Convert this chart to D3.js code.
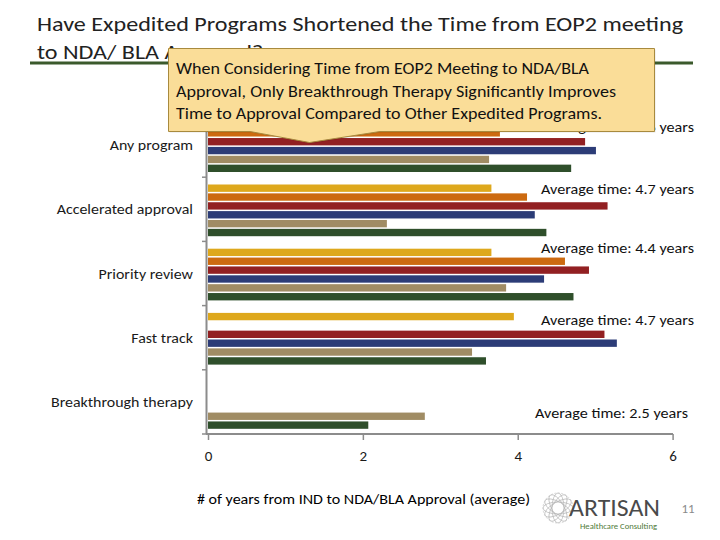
<!DOCTYPE html>
<html><head><meta charset="utf-8">
<script src="https://cdn.jsdelivr.net/npm/d3@7"></script>
<style>html,body{margin:0;padding:0;background:#fff;}svg{display:block;}</style>
</head><body>
<script>
// ---- data ----
const categories = ["Any program", "Accelerated approval", "Priority review", "Fast track", "Breakthrough therapy"];
const seriesNames = ["Series 1", "Series 2", "Series 3", "Series 4", "Series 5", "Series 6"];
const series1 = [3.65, 3.66, 3.66, 3.95, null];
const series2 = [3.77, 4.12, 4.61, null, null];
const series3 = [4.87, 5.16, 4.92, 5.12, null];
const series4 = [5.01, 4.22, 4.34, 5.28, null];
const series5 = [3.63, 2.31, 3.85, 3.41, 2.80];
const series6 = [4.69, 4.37, 4.72, 3.59, 2.07];
const averageTimes = ["4.6", "4.7", "4.4", "4.7", "2.5"];
const xTicks = [0, 2, 4, 6];
const titleLines = ["Have Expedited Programs Shortened the Time from EOP2 meeting", "to NDA/ BLA Approval?"];
const calloutLines = ["When Considering Time from EOP2 Meeting to NDA/BLA",
  "Approval, Only Breakthrough Therapy Significantly Improves",
  "Time to Approval Compared to Other Expedited Programs."];
const xAxisTitle = "# of years from IND to NDA/BLA Approval (average)";

const seriesValues = [series1, series2, series3, series4, series5, series6];
const colors = ["#dea81c", "#cc6a10", "#922022", "#2c3c77", "#a08c64", "#2f4f2b"];
const FONT = "Carlito, Lato, 'Open Sans', sans-serif";

const W = 720, H = 540;
const svg = d3.select("body").append("svg").attr("width", W).attr("height", H);

function fit(sel, width) {
  const n = sel.node().getComputedTextLength();
  sel.attr("textLength", width).attr("lengthAdjust", "spacingAndGlyphs");
  return width / n;
}

// ---- title ----
const t1 = svg.append("text").attr("x", 37).attr("y", 31).attr("font-family", FONT)
  .attr("font-size", 20).attr("fill", "#222").text(titleLines[0]);
const k = fit(t1, 646);
const t2 = svg.append("text").attr("x", 37).attr("y", 59).attr("font-family", FONT)
  .attr("font-size", 20).attr("fill", "#222").text(titleLines[1]);
t2.attr("textLength", t2.node().getComputedTextLength() * k).attr("lengthAdjust", "spacingAndGlyphs");
svg.append("line").attr("x1", 30).attr("x2", 693).attr("y1", 63).attr("y2", 63)
  .attr("stroke", "#3b5a2c").attr("stroke-width", 3);

// ---- scales ----
const x = d3.scaleLinear().domain([0, 6]).range([208, 672.6]);
const y0 = d3.scaleBand().domain(categories).range([113, 434]);
const y1 = d3.scaleBand().domain(seriesNames).range([7.3, 59]).paddingInner(0.17);

// bars
const g = svg.append("g");
categories.forEach((c, ci) => {
  seriesNames.forEach((s, si) => {
    const v = seriesValues[si][ci];
    if (v == null) return;
    g.append("rect")
      .attr("x", x(0)).attr("y", y0(c) + y1(s))
      .attr("width", x(v) - x(0)).attr("height", y1.bandwidth())
      .attr("fill", colors[si]);
  });
});

// y axis (ticks at band boundaries)
const yBounds = categories.map(c => y0(c)).concat([y0.range()[1]]);
svg.append("line").attr("x1", 206.5).attr("x2", 206.5).attr("y1", y0.range()[0]).attr("y2", y0.range()[1])
  .attr("stroke", "#8c8c8c").attr("stroke-width", 2);
svg.selectAll(".ytick").data(yBounds).enter().append("line")
  .attr("x1", 202).attr("x2", 206).attr("y1", d => d).attr("y2", d => d)
  .attr("stroke", "#8c8c8c").attr("stroke-width", 1.5);

// category labels
const catLabels = svg.selectAll(".cat").data(categories).enter().append("text")
  .attr("x", 193).attr("y", d => y0(d) + y0.bandwidth() / 2 + 5)
  .attr("text-anchor", "end").attr("font-family", FONT).attr("font-size", 14).attr("fill", "#1a1a1a")
  .text(d => d);
let kc = null;
catLabels.each(function (d) {
  if (d === "Breakthrough therapy") kc = 142 / this.getComputedTextLength();
});
catLabels.each(function () {
  const n = this.getComputedTextLength();
  d3.select(this).attr("textLength", n * kc).attr("lengthAdjust", "spacingAndGlyphs");
});

// x axis
const xAxis = d3.axisBottom(x).tickValues(xTicks).tickSize(6).tickPadding(10).tickFormat(d3.format("d"));
const xg = svg.append("g").attr("transform", "translate(0,434)").call(xAxis);
xg.select(".domain").attr("stroke", "#8c8c8c").attr("stroke-width", 2).attr("d", "M206,0H673");
xg.selectAll(".tick line").attr("stroke", "#8c8c8c").attr("stroke-width", 1.5);
xg.selectAll(".tick text").attr("font-family", FONT).attr("font-size", 15).attr("fill", "#1a1a1a");

// x axis title
const xt = svg.append("text").attr("x", 363.5).attr("y", 504).attr("text-anchor", "middle")
  .attr("font-family", FONT).attr("font-size", 14).attr("fill", "#000").text(xAxisTitle);
fit(xt, 333);

// average labels
const avgRight = [694, 694, 694, 694, 688];
const avgY = [131.5, 194, 253, 325, 418];
categories.forEach((c, i) => {
  const t = svg.append("text").attr("x", avgRight[i]).attr("y", avgY[i]).attr("text-anchor", "end")
    .attr("font-family", FONT).attr("font-size", 14).attr("fill", "#111")
    .text("Average time: " + averageTimes[i] + " years");
  fit(t, 153);
});

// ---- callout ----
const cg = svg.append("g");
const cp = "M168.5,48.5 H654.5 V131.5 H380 L309.5,142.5 L250,131.5 H168.5 Z";
cg.append("path").attr("d", cp).attr("transform", "translate(1,1)").attr("fill", "rgba(0,0,0,0.10)");
cg.append("path").attr("d", cp).attr("fill", "#fadd98").attr("stroke", "#a88a3e").attr("stroke-width", 1);
const cw = [413, 440, 426];
const cy = [74, 96.5, 118.5];
calloutLines.forEach((l, i) => {
  const t = cg.append("text").attr("x", 176).attr("y", cy[i]).attr("font-family", FONT)
    .attr("font-size", 16).attr("fill", "#111").text(l);
  fit(t, cw[i]);
});

// ---- logo ----
const logo = svg.append("g");
const gc = [558, 508];
[0, 30, 60, 90, 120, 150].forEach(a => {
  logo.append("ellipse").attr("cx", gc[0]).attr("cy", gc[1]).attr("rx", 15).attr("ry", 6)
    .attr("transform", `rotate(${a},${gc[0]},${gc[1]})`)
    .attr("fill", "none").attr("stroke", "#b5b5b5").attr("stroke-width", 0.7);
});
logo.append("circle").attr("cx", gc[0]).attr("cy", gc[1]).attr("r", 15)
  .attr("fill", "none").attr("stroke", "#c4c4c4").attr("stroke-width", 0.7).attr("stroke-dasharray", "2,1.5");
const art = logo.append("text").attr("x", 569).attr("y", 516).attr("font-family", FONT)
  .attr("font-size", 25).attr("fill", "#4a4a4a").text("ARTISAN");
fit(art, 91);
const hc = logo.append("text").attr("x", 580).attr("y", 529).attr("font-family", FONT)
  .attr("font-size", 7).attr("fill", "#4f7a3a").text("Healthcare Consulting");
fit(hc, 77);
svg.append("text").attr("x", 688).attr("y", 513).attr("text-anchor", "middle").attr("font-family", FONT)
  .attr("font-size", 13).attr("fill", "#8a8a8a").text("11");
</script>
</body></html>
